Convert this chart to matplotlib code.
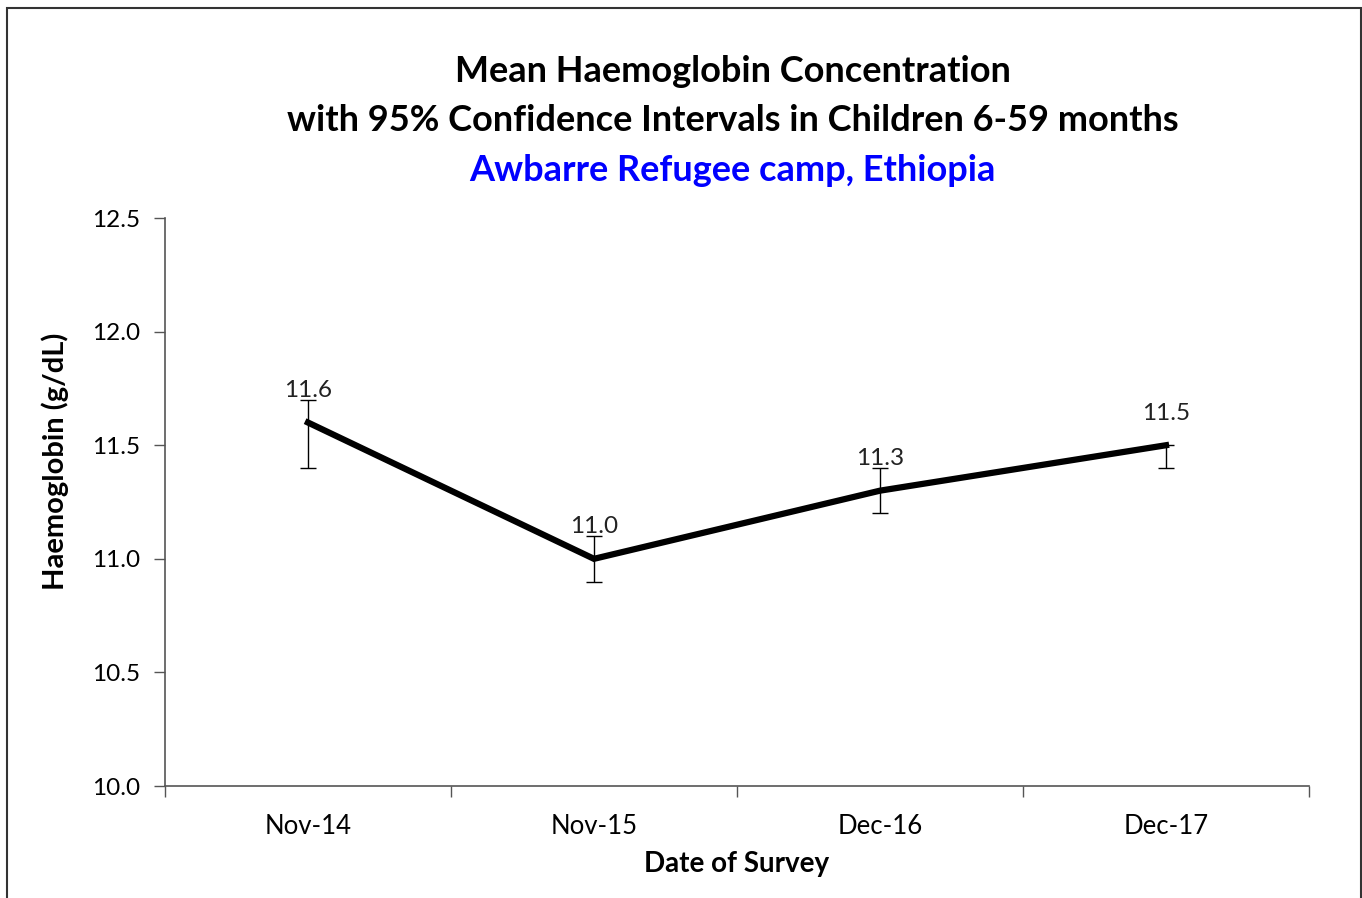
import matplotlib.pyplot as plt
from matplotlib.patches import Rectangle

# Survey data
surveys = ['Nov-14', 'Nov-15', 'Dec-16', 'Dec-17']
hb_mean = [11.6, 11.0, 11.3, 11.5]
ci_low = [11.4, 10.9, 11.2, 11.4]
ci_high = [11.7, 11.1, 11.4, 11.5]

plt.rcParams['font.family'] = ['Lato', 'DejaVu Sans']

fig = plt.figure(figsize=(13.62, 8.98), dpi=100)
ax = fig.add_axes([0.1211, 0.1247, 0.8400, 0.6325])

x = list(range(len(surveys)))
err_lo = [m - l for m, l in zip(hb_mean, ci_low)]
err_hi = [h - m for m, h in zip(hb_mean, ci_high)]

ax.errorbar(x, hb_mean, yerr=[err_lo, err_hi], fmt='none', ecolor='black',
            elinewidth=1, capsize=6, capthick=1, zorder=2)
ax.plot(x, hb_mean, color='black', lw=4.5, solid_joinstyle='miter', zorder=3)

for xi, v in zip(x, hb_mean):
    ax.annotate(f'{v:.1f}', (xi, v), xytext=(0, 23), textcoords='offset points',
                ha='center', va='center', fontsize=17.5, color='#222222')

ax.set_xlim(-0.5, len(surveys) - 0.5)
ax.set_ylim(10.0, 12.5)
ax.set_yticks([10.0, 10.5, 11.0, 11.5, 12.0, 12.5])
ax.set_yticklabels([f'{t:.1f}' for t in [10.0, 10.5, 11.0, 11.5, 12.0, 12.5]])
ax.set_xticks(x)
ax.set_xticklabels(surveys)
ax.set_xticks([i - 0.5 for i in range(len(surveys) + 1)], minor=True)

ax.tick_params(axis='x', which='major', length=0, pad=20, labelsize=18.5)
ax.tick_params(axis='x', which='minor', length=8, width=1, color='#555555')
ax.tick_params(axis='y', length=8, width=1, color='#555555', pad=10, labelsize=17.5)

for s in ['top', 'right']:
    ax.spines[s].set_visible(False)
for s in ['left', 'bottom']:
    ax.spines[s].set_color('#555555')
    ax.spines[s].set_linewidth(1.2)

ax.set_xlabel('Date of Survey', fontsize=20, fontweight='bold', labelpad=9)
ax.set_ylabel('Haemoglobin (g/dL)', fontsize=21, fontweight='bold')
ax.yaxis.set_label_coords(-0.084, 0.572)

fig.text(0.538, 0.920, 'Mean Haemoglobin Concentration', ha='center', va='center',
         fontsize=26, fontweight='bold')
fig.text(0.538, 0.866, 'with 95% Confidence Intervals in Children 6-59 months',
         ha='center', va='center', fontsize=26, fontweight='bold')
fig.text(0.538, 0.810, 'Awbarre Refugee camp, Ethiopia', ha='center', va='center',
         fontsize=26, fontweight='bold', color='#0000ff')

# outer chart border
fig.patches.append(Rectangle((0.005, -0.05), 0.994, 1.041, transform=fig.transFigure,
                             fill=False, edgecolor='#333333', lw=1.5))

fig.savefig('out.png', dpi=100)
